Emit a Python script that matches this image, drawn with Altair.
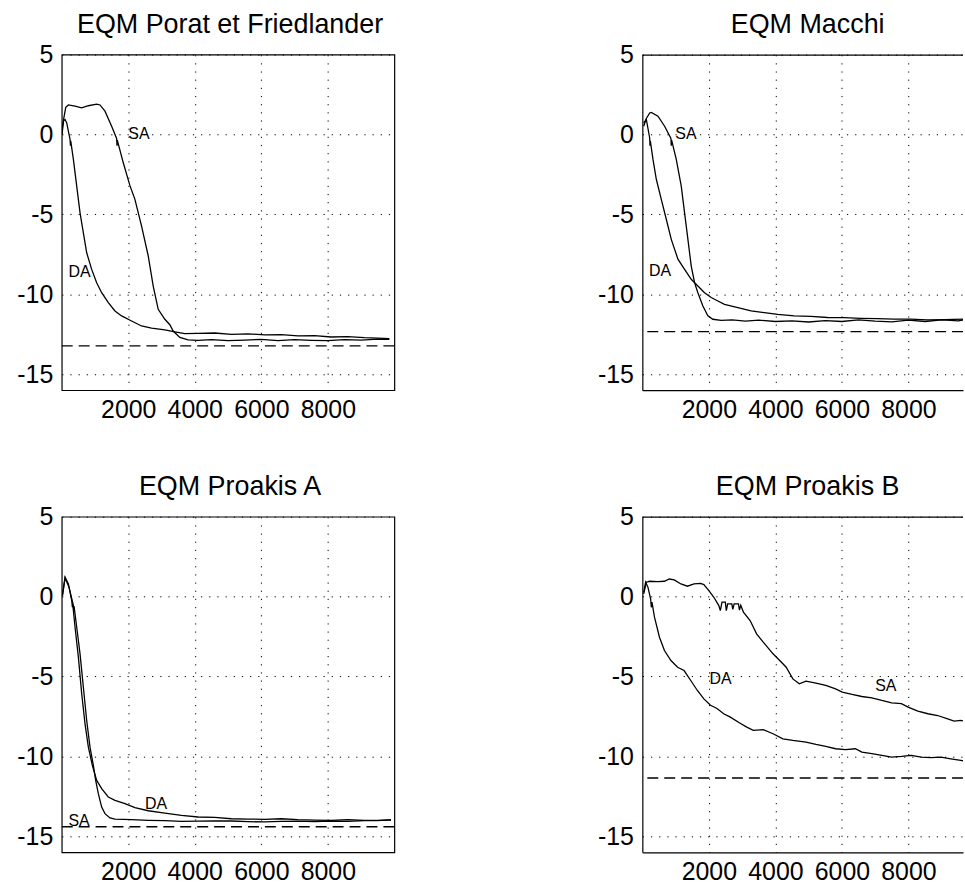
import altair as alt
import pandas as pd

FONT = "Liberation Sans"

x_ticks = [2000, 4000, 6000, 8000]
y_ticks = [-15, -10, -5, 0, 5]

# ---- EQM Porat et Friedlander ----
pf_sa_x = [10, 60, 120, 200, 400, 600, 800, 1050, 1150, 1300, 1500, 1650, 1662, 1670, 1850, 2050, 2200, 2400, 2600, 2750,
           2900, 3100, 3250, 3350, 3550, 3800, 4100, 4500, 5000, 5500, 6000, 6500, 7000, 7500, 8000, 8500, 9000, 9500, 9850]
pf_sa_y = [0.0, 1.0, 1.7, 1.85, 1.78, 1.67, 1.8, 1.9, 1.85, 1.46, 0.52, -0.25, -0.7, -0.35, -1.77, -3.2, -4.06, -5.73, -7.6, -9.48,
           -10.94, -11.56, -11.9, -12.3, -12.7, -12.85, -12.88, -12.83, -12.9, -12.86, -12.82, -12.9, -12.84, -12.88, -12.9, -12.83, -12.87, -12.8, -12.82]
pf_da_x = [10, 50, 100, 150, 200, 250, 262, 270, 350, 450, 550, 650, 750, 900, 1050, 1200, 1400, 1600, 1800, 2100,
           2400, 2700, 3100, 3400, 3700, 4100, 4600, 5100, 5600, 6100, 6600, 7100, 7600, 8100, 8600, 9100, 9500, 9850]
pf_da_y = [0.3, 0.85, 0.94, 0.73, 0.2, -0.3, -0.7, -0.4, -1.56, -3.23, -4.9, -6.15, -7.4, -8.44, -9.27, -9.9, -10.52, -11.04, -11.35, -11.67,
           -11.98, -12.12, -12.23, -12.35, -12.46, -12.44, -12.42, -12.5, -12.47, -12.54, -12.52, -12.6, -12.58, -12.67, -12.64, -12.71, -12.74, -12.77]
pf_floor = -13.23
pf_lab_text = ["SA", "DA"]
pf_lab_x = [2000, 200]
pf_lab_y = [0.0, -8.6]

# ---- EQM Macchi ----
ma_sa_x = [40, 120, 220, 270, 470, 670, 860, 870, 880, 1020, 1170, 1270, 1370, 1470, 1570, 1670, 1820, 1970, 2120, 2370,
           2700, 3100, 3500, 4000, 4500, 5000, 5500, 6000, 6500, 7000, 7500, 8000, 8500, 9000, 9500, 9700]
ma_sa_y = [0.52, 1.0, 1.35, 1.38, 1.15, 0.52, -0.25, -0.7, -0.35, -1.56, -3.23, -4.9, -6.56, -8.23, -9.27, -9.9, -10.73, -11.35, -11.56, -11.63,
           -11.6, -11.68, -11.62, -11.7, -11.66, -11.73, -11.65, -11.7, -11.6, -11.68, -11.72, -11.62, -11.7, -11.6, -11.66, -11.58]
ma_da_x = [40, 120, 220, 230, 240, 320, 420, 570, 720, 870, 1070, 1270, 1470, 1670, 1870, 2070, 2270, 2470, 2870, 3270,
           3670, 4070, 4570, 5070, 5570, 6070, 6570, 7070, 7570, 8070, 8570, 9070, 9670]
ma_da_y = [0.73, 0.94, -0.2, -0.7, -0.4, -1.56, -2.8, -4.06, -5.3, -6.56, -7.8, -8.44, -9.06, -9.48, -9.9, -10.2, -10.42, -10.63, -10.83, -11.04,
           -11.15, -11.25, -11.35, -11.38, -11.45, -11.46, -11.5, -11.52, -11.55, -11.55, -11.6, -11.58, -11.55]
ma_floor = -12.33
ma_lab_text = ["SA", "DA"]
ma_lab_x = [990, 200]
ma_lab_y = [0.0, -8.54]

# ---- EQM Proakis A ----
pa_sa_x = [20, 100, 220, 350, 360, 370, 450, 550, 650, 750, 850, 950, 1020, 1100, 1200, 1300, 1450, 1600, 2100, 2600,
           3100, 3600, 4100, 4600, 5100, 5600, 6100, 6600, 7100, 7600, 8100, 8600, 9100, 9500, 9900]
pa_sa_y = [0.06, 1.17, 0.58, -0.56, -0.9, -0.6, -1.92, -3.58, -5.67, -7.75, -9.42, -10.56, -11.5, -12.33, -13.17, -13.58, -13.85, -13.92, -13.96, -14.0,
           -14.02, -14.06, -14.05, -14.03, -14.04, -14.08, -14.1, -14.06, -14.05, -14.08, -14.04, -14.06, -14.02, -14.0, -13.98]
pa_da_x = [20, 100, 200, 280, 300, 320, 330, 400, 500, 600, 700, 800, 920, 1050, 1200, 1400, 1600, 1900, 2200, 2600,
           3100, 3600, 4100, 4600, 5100, 5600, 6100, 6600, 7100, 7600, 8100, 8600, 9100, 9500, 9900]
pa_da_y = [0.06, 1.21, 0.79, -0.04, -0.25, -0.67, -0.45, -1.92, -3.79, -6.08, -7.96, -9.42, -10.56, -11.5, -12.02, -12.54, -12.75, -12.95, -13.2, -13.4,
           -13.55, -13.69, -13.79, -13.82, -13.9, -13.92, -13.94, -13.9, -13.96, -13.98, -14.0, -13.96, -14.0, -14.02, -13.96]
pa_floor = -14.4
pa_lab_text = ["SA", "DA"]
pa_lab_x = [200, 2500]
pa_lab_y = [-14.05, -13.0]

# ---- EQM Proakis B ----
pb_sa_x = [40, 120, 220, 465, 665, 810, 960, 1160, 1355, 1555, 1750, 1850, 2000, 2150, 2300, 2345, 2395, 2495, 2525, 2565,
           2690, 2720, 2760, 2890, 2920, 2960, 3040, 3240, 3435, 3635, 3930, 4130, 4325, 4525, 4720, 4920, 5220, 5515, 5810, 6010,
           6305, 6600, 6900, 7200, 7495, 7790, 7990, 8285, 8585, 8880, 9180, 9375, 9575, 9700]
pb_sa_y = [0.17, 0.9, 0.96, 0.94, 0.96, 1.1, 1.04, 0.79, 0.65, 0.79, 0.83, 0.75, 0.375, -0.04, -0.56, -0.875, -0.35, -0.35, -0.875, -0.46,
           -0.46, -0.8, -0.46, -0.46, -0.85, -0.55, -0.98, -1.5, -2.33, -2.85, -3.58, -4.0, -4.42, -5.15, -5.46, -5.29, -5.42, -5.56, -5.77, -5.98,
           -6.125, -6.25, -6.33, -6.5, -6.65, -6.7, -6.92, -7.17, -7.33, -7.44, -7.65, -7.79, -7.75, -7.8]
pb_da_x = [40, 100, 170, 250, 270, 290, 365, 515, 665, 860, 1060, 1255, 1455, 1655, 1850, 2050, 2245, 2445, 2645, 2940,
           3140, 3335, 3635, 3930, 4225, 4525, 4920, 5220, 5515, 5810, 6110, 6405, 6600, 6900, 7200, 7495, 7790, 8090, 8385, 8680,
           8980, 9275, 9575, 9700]
pb_da_y = [0.27, 0.9, 0.58, -0.15, -0.67, -0.35, -1.29, -2.54, -3.375, -4.0, -4.42, -4.625, -5.25, -5.875, -6.4, -6.8, -7.0, -7.33, -7.54, -7.92,
           -8.17, -8.375, -8.33, -8.58, -8.9, -9.0, -9.1, -9.25, -9.375, -9.52, -9.58, -9.52, -9.73, -9.83, -9.94, -10.04, -10.0, -9.94, -10.04, -10.08,
           -10.04, -10.15, -10.25, -10.3]
pb_floor = -11.35
pb_lab_text = ["DA", "SA"]
pb_lab_x = [2020, 7000]
pb_lab_y = [-5.15, -5.6]


def make_panel(title, sa_x, sa_y, da_x, da_y, floor_db, lab_text, lab_x, lab_y,
               width, xmax, cut):
    df = pd.DataFrame({
        "n": sa_x + da_x,
        "eqm": sa_y + da_y,
        "serie": ["SA"] * len(sa_x) + ["DA"] * len(da_x),
        "ordre": list(range(len(sa_x))) + list(range(len(da_x))),
    })
    xs = alt.Scale(domain=[0, xmax], nice=False, zero=False)
    ys = alt.Scale(domain=[-16, 5], nice=False, zero=False)
    xaxis = alt.Axis(values=x_ticks, labelExpr="datum.value + ''", labelFontSize=25,
                     labelFont=FONT, labelColor="black", tickSize=0, labelPadding=7,
                     grid=True, gridDash=[1.2, 7], gridColor="black", gridWidth=1,
                     domain=cut, domainColor="black", domainWidth=1.2,
                     labelOverlap=False, title=None)
    yaxis = alt.Axis(values=y_ticks, labelExpr="datum.value + ''", labelFontSize=25,
                     labelFont=FONT, labelColor="black", tickSize=0, labelPadding=9,
                     grid=True, gridDash=[1.2, 7], gridColor="black", gridWidth=1,
                     domain=cut, domainColor="black", domainWidth=1.2,
                     labelOverlap=False, title=None)
    lines = alt.Chart(df).mark_line(color="black", strokeWidth=1.3, clip=True).encode(
        x=alt.X("n:Q", scale=xs, axis=xaxis),
        y=alt.Y("eqm:Q", scale=ys, axis=yaxis),
        detail="serie:N",
        order="ordre:Q",
    )
    floor = alt.Chart(pd.DataFrame({"eqm": [floor_db]})).mark_rule(
        color="black", strokeWidth=1.3, strokeDash=[11, 6]
    ).encode(y=alt.Y("eqm:Q", scale=ys))
    labels = alt.Chart(pd.DataFrame({"n": lab_x, "eqm": lab_y, "t": lab_text})).mark_text(
        align="left", baseline="middle", fontSize=16, font=FONT, color="black"
    ).encode(x=alt.X("n:Q", scale=xs), y=alt.Y("eqm:Q", scale=ys), text="t:N")
    layers = [lines, floor, labels]
    props = dict(width=width, height=337,
                 title=alt.TitleParams(title, fontSize=27, font=FONT, fontWeight="normal",
                                       color="black", offset=4, dx=5 if cut else 2))
    if cut:
        top = alt.Chart(pd.DataFrame({"eqm": [5]})).mark_rule(
            color="black", strokeWidth=1.2, yOffset=0.5).encode(y=alt.Y("eqm:Q", scale=ys))
        layers.append(top)
        props["view"] = alt.ViewBackground(stroke="transparent")
    return alt.layer(*layers).properties(**props)


p1 = make_panel("EQM Porat et Friedlander", pf_sa_x, pf_sa_y, pf_da_x, pf_da_y, pf_floor,
                pf_lab_text, pf_lab_x, pf_lab_y, 334, 10000, False)
p2 = make_panel("EQM Macchi", ma_sa_x, ma_sa_y, ma_da_x, ma_da_y, ma_floor,
                ma_lab_text, ma_lab_x, ma_lab_y, 322, 9641, True)
p3 = make_panel("EQM Proakis A", pa_sa_x, pa_sa_y, pa_da_x, pa_da_y, pa_floor,
                pa_lab_text, pa_lab_x, pa_lab_y, 334, 10000, False)
p4 = make_panel("EQM Proakis B", pb_sa_x, pb_sa_y, pb_da_x, pb_da_y, pb_floor,
                pb_lab_text, pb_lab_x, pb_lab_y, 322, 9641, True)

chart = alt.vconcat(
    alt.hconcat(p1, p2, spacing=201),
    alt.hconcat(p3, p4, spacing=201),
    spacing=49,
).properties(
    padding={"left": 16, "top": 8, "right": 0, "bottom": 0},
    background="white",
).configure_view(stroke="black", strokeWidth=1.2)

chart.save("out.html", embed_options={"renderer": "svg", "actions": False})
